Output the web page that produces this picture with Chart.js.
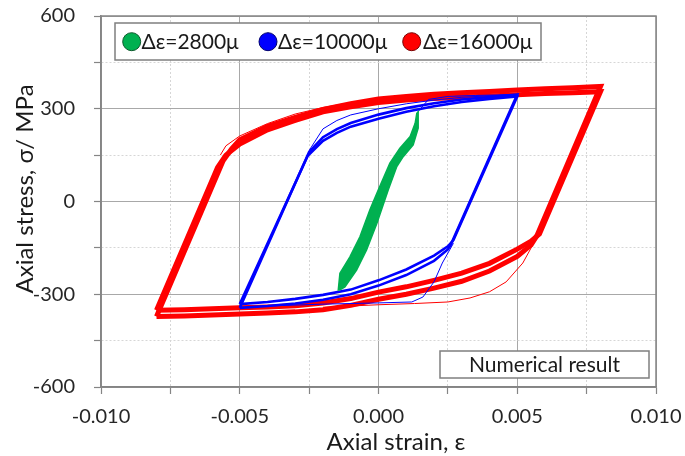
<!DOCTYPE html>
<html><head><meta charset="utf-8">
<script src="https://cdn.jsdelivr.net/npm/chart.js@4/dist/chart.umd.min.js"></script>
<style>html,body{margin:0;padding:0;background:#fff}</style>
</head><body>
<canvas id="c" width="685" height="456"></canvas>
<script>
// ---- data: [strain, stress(MPa)] ----
const green2800 = [
 [-0.00139,-286],[-0.00121,-276],[-0.00079,-222],[-0.00043,-157],[-0.00006,-71],[0.00035,37],
 [0.00066,113],[0.00089,145],[0.00125,183],[0.00143,237],[0.00143,290],
 [0.00138,285],[0.00132,253],[0.00114,210],[0.00077,172],[0.00041,124],[-0.00001,37],
 [-0.00031,-27],[-0.00067,-114],[-0.00103,-179],[-0.00139,-232],[-0.00145,-286],[-0.00139,-286]
];
const blueCycle1 = [
 [-0.005,-332],[-0.00255,148],[-0.002,196],[-0.0015,222],[-0.001,242],[0,268],[0.001,290],
 [0.002,308],[0.003,322],[0.004,332],[0.005,340],
 [0.0027,-125],[0.0025,-145],[0.002,-175],[0.001,-220],[0,-255],[-0.001,-285],[-0.002,-302],
 [-0.003,-315],[-0.004,-325],[-0.005,-332]
];
const blueCycle2 = [
 [-0.005,-344],[-0.0025,160],[-0.002,208],[-0.0015,234],[-0.001,254],[0,281],[0.001,302],
 [0.002,318],[0.003,330],[0.004,338],[0.005,346],
 [0.0026,-141],[0.0025,-155],[0.002,-192],[0.001,-238],[0,-272],[-0.001,-300],[-0.002,-318],
 [-0.003,-330],[-0.004,-338],[-0.005,-344]
];
const blueFirstLoad = [[0.0014,288],[0.0018,330],[0.0025,340],[0.0035,343],[0.005,346]];
const blueFirstUnload = [[0.0027,-135],[0.0023,-199],[0.0020,-260],[0.0016,-309],[0.0012,-325],[0,-328],[-0.002,-332],[-0.004,-338],[-0.005,-344]];
const blueUpperThin = [[-0.0025,165],[-0.002,235],[-0.0015,262],[-0.001,280],[0,300],[0.001,316],[0.002,328],[0.003,337],[0.004,342],[0.005,346]];
const redCycle1 = [
 [-0.008,-352],[-0.0058,110],[-0.0055,150],[-0.005,186],[-0.004,232],[-0.003,262],[-0.002,290],
 [-0.001,306],[0,320],[0.001,328],[0.002,333],[0.003,337],[0.004,341],[0.005,345],[0.006,349],
 [0.007,352],[0.008,355],
 [0.0058,-105],[0.0055,-128],[0.005,-154],[0.004,-200],[0.003,-232],[0.002,-255],[0.001,-276],
 [0,-293],[-0.001,-314],[-0.002,-328],[-0.003,-337],[-0.004,-341],[-0.005,-344],[-0.006,-347],
 [-0.007,-350],[-0.008,-352]
];
const redCycle2 = [
 [-0.008,-372],[-0.0056,132],[-0.0053,170],[-0.005,200],[-0.004,243],[-0.003,272],[-0.002,298],
 [-0.001,316],[0,332],[0.001,340],[0.002,347],[0.003,352],[0.004,356],[0.005,361],[0.006,365],
 [0.007,368],[0.008,372],
 [0.0057,-112],[0.0055,-140],[0.005,-178],[0.004,-225],[0.003,-258],[0.002,-280],[0.001,-300],
 [0,-316],[-0.001,-336],[-0.002,-350],[-0.003,-357],[-0.004,-361],[-0.005,-364],[-0.006,-367],
 [-0.007,-370],[-0.008,-372]
];
const redThinUpper = [[-0.0057,150],[-0.0055,180],[-0.005,212],[-0.004,252],[-0.003,283],[-0.002,304],[-0.001,320],[0,333],[0.001,341]];
const redThinLower = [[0.0058,-100],[0.0055,-150],[0.0052,-199],[0.0046,-260],[0.004,-292],[0.0033,-312],[0.0025,-325],[0.0013,-330],[0,-334],[-0.001,-338],[-0.002,-342]];

const legendLabels = ['\u0394\u03b5=2800\u03bc','\u0394\u03b5=10000\u03bc','\u0394\u03b5=16000\u03bc'];
const xTickLabels = ['-0.010','-0.005','0.000','0.005','0.010'];
const yTickLabels = ['-600','-300','0','300','600'];
const xTitle = 'Axial strain, \u03b5';
const yTitle = 'Axial stress, \u03c3/ MPa';
const noteText = 'Numerical result';

const pts = a => a.map(p => ({x:p[0], y:p[1]}));
const GREEN='#00B050', BLUE='#0000FF', RED='#FF0000';
const FONT='Lato';

function ds(label, data, color, w, extra){
  return Object.assign({label, data: pts(data), borderColor: color, backgroundColor: color,
    borderWidth: w, pointRadius: 0, tension: 0, fill: false}, extra||{});
}
const datasets = [
  ds(legendLabels[0], green2800, GREEN, 1.5, {fill:'shape', legend:true}),
  ds('b-first-load', blueFirstLoad, BLUE, 1),
  ds('b-first-unload', blueFirstUnload, BLUE, 1),
  ds('b-upper-thin', blueUpperThin, BLUE, 1),
  ds(legendLabels[1], blueCycle1, BLUE, 2.6, {legend:true}),
  ds('b-cycle2', blueCycle2, BLUE, 2.6),
  ds('r-thin-upper', redThinUpper, RED, 1),
  ds('r-thin-lower', redThinLower, RED, 1),
  ds(legendLabels[2], redCycle1, RED, 5, {legend:true}),
  ds('r-cycle2', redCycle2, RED, 5)
];

function isMajor(v, step){ return Math.abs(Math.round(v/step)*step - v) < step*1e-4; }
function labelFor(v, step, list, dec){
  if (!isMajor(v, step)) return '';
  const s = (Math.abs(v) < step*1e-4 ? 0 : v).toFixed(dec);
  return list.includes(s) ? s : '';
}

const decor = {
  id: 'decor',
  beforeDatasetsDraw(chart){
    const {ctx, chartArea:a} = chart;
    ctx.save(); ctx.strokeStyle='#858585'; ctx.lineWidth=1.5;
    ctx.strokeRect(a.left, a.top, a.right-a.left, a.bottom-a.top); ctx.restore();
  },
  afterDraw(chart){
    const ctx = chart.ctx;
    ctx.save();
    ctx.fillStyle='#fff'; ctx.fillRect(115,23,426,37);
    ctx.strokeStyle='#7f7f7f'; ctx.lineWidth=1.5; ctx.strokeRect(115,23,426,37);
    const items = chart.data.datasets.filter(d => d.legend);
    const cxs=[131.7,268,411.7], txs=[141.5,278,423];
    const strokes=['#0c5a2c','#00006e','#7a0000'];
    items.forEach((d,i)=>{
      ctx.beginPath(); ctx.arc(cxs[i],41.7,9,0,Math.PI*2);
      ctx.fillStyle=d.borderColor; ctx.fill();
      ctx.strokeStyle=strokes[i]; ctx.lineWidth=1; ctx.stroke();
      ctx.fillStyle='#1a1a1a'; ctx.font='21px '+FONT; ctx.textBaseline='middle'; ctx.textAlign='left';
      ctx.fillText(d.label, txs[i], 42.5);
    });
    ctx.fillStyle='#fff'; ctx.fillRect(440,351,209,27);
    ctx.strokeStyle='#7f7f7f'; ctx.lineWidth=1.5; ctx.strokeRect(440,351,209,27);
    ctx.fillStyle='#1a1a1a'; ctx.font='21px '+FONT; ctx.textAlign='center'; ctx.textBaseline='middle';
    ctx.fillText(noteText, 544.5, 365.5);
    ctx.font='24px '+FONT; ctx.fillStyle='#1a1a1a';
    ctx.fillText(xTitle, 396, 442);
    ctx.translate(25,189); ctx.rotate(-Math.PI/2); ctx.fillText(yTitle, 0, 0);
    ctx.restore();
  }
};

function gridOpts(step){
  return {
    grid: { color: c => (c.tick && isMajor(c.tick.value, step)) ? '#a8a8a8' : '#d6d6d6',
            lineWidth: 1, tickLength: 7, tickColor: '#858585', tickWidth: 1.2 },
    border: { color: '#858585', width: 1.5,
              dash: c => (c.tick && !isMajor(c.tick.value, step)) ? [2,2] : [] }
  };
}

Chart.defaults.font.family = FONT;
new Chart(document.getElementById('c'), {
  type: 'line',
  data: { datasets },
  plugins: [decor],
  options: {
    responsive: false, animation: false, devicePixelRatio: 1,
    layout: { padding: { left: 0, right: 29, top: 16, bottom: 0 } },
    plugins: { legend: { display: false }, tooltip: { enabled: false } },
    scales: {
      x: Object.assign({ type: 'linear', min: -0.01, max: 0.01,
        afterFit: s => { s.height = 69; s.paddingLeft = 0; s.paddingRight = 0; s.paddingTop = 0; s.paddingBottom = 0; },
        ticks: { stepSize: 0.0025, autoSkip: false, maxRotation: 0, padding: 11,
          color: '#262626', font: { size: 20 },
          callback: v => labelFor(v, 0.005, xTickLabels, 3) } }, gridOpts(0.005)),
      y: Object.assign({ type: 'linear', min: -600, max: 600,
        afterFit: s => { s.width = 101; s.paddingLeft = 0; s.paddingRight = 0; s.paddingTop = 0; s.paddingBottom = 0; },
        ticks: { stepSize: 150, autoSkip: false, padding: 19,
          color: '#262626', font: { size: 20 },
          callback: v => labelFor(v, 300, yTickLabels, 0) } }, gridOpts(300))
    }
  }
});
</script>
</body></html>
